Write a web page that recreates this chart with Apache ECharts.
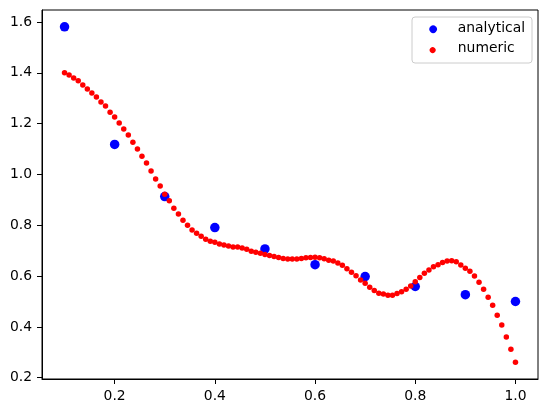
<!DOCTYPE html>
<html>
<head>
<meta charset="utf-8">
<title>analytical vs numeric</title>
<script src="https://cdn.jsdelivr.net/npm/echarts@6/dist/echarts.min.js"></script>
<style>
  html, body { margin: 0; padding: 0; background: #fff; }
  #chart { width: 547px; height: 413px; }
</style>
</head>
<body>
<div id="chart"></div>
<script>
// analytical points
const analyticalX = [0.1, 0.2, 0.3, 0.4, 0.5, 0.6, 0.7, 0.8, 0.9, 1.0]
const analyticalY = [1.581, 1.118, 0.913, 0.791, 0.707, 0.645, 0.598, 0.559, 0.527, 0.500]

// numeric points (100 samples from 0.1 to 1.0)
const numericX = [
  0.1000, 0.1091, 0.1182, 0.1273, 0.1364, 0.1455, 0.1545, 0.1636, 0.1727, 0.1818,
  0.1909, 0.2000, 0.2091, 0.2182, 0.2273, 0.2364, 0.2455, 0.2545, 0.2636, 0.2727,
  0.2818, 0.2909, 0.3000, 0.3091, 0.3182, 0.3273, 0.3364, 0.3455, 0.3545, 0.3636,
  0.3727, 0.3818, 0.3909, 0.4000, 0.4091, 0.4182, 0.4273, 0.4364, 0.4455, 0.4545,
  0.4636, 0.4727, 0.4818, 0.4909, 0.5000, 0.5091, 0.5182, 0.5273, 0.5364, 0.5455,
  0.5545, 0.5636, 0.5727, 0.5818, 0.5909, 0.6000, 0.6091, 0.6182, 0.6273, 0.6364,
  0.6455, 0.6545, 0.6636, 0.6727, 0.6818, 0.6909, 0.7000, 0.7091, 0.7182, 0.7273,
  0.7364, 0.7455, 0.7545, 0.7636, 0.7727, 0.7818, 0.7909, 0.8000, 0.8091, 0.8182,
  0.8273, 0.8364, 0.8455, 0.8545, 0.8636, 0.8727, 0.8818, 0.8909, 0.9000, 0.9091,
  0.9182, 0.9273, 0.9364, 0.9455, 0.9545, 0.9636, 0.9727, 0.9818, 0.9909, 1.0000
]
const numericY = [
  1.400, 1.391, 1.379, 1.369, 1.352, 1.336, 1.320, 1.305, 1.285, 1.269,
  1.245, 1.226, 1.202, 1.179, 1.155, 1.127, 1.100, 1.072, 1.045, 1.013,
  0.982, 0.954, 0.922, 0.896, 0.867, 0.844, 0.820, 0.800, 0.781, 0.769,
  0.757, 0.745, 0.737, 0.733, 0.726, 0.722, 0.718, 0.714, 0.714, 0.710,
  0.706, 0.698, 0.694, 0.690, 0.685, 0.681, 0.677, 0.673, 0.669, 0.667,
  0.667, 0.667, 0.669, 0.672, 0.673, 0.674, 0.672, 0.668, 0.662, 0.659,
  0.651, 0.643, 0.629, 0.615, 0.601, 0.585, 0.572, 0.556, 0.543, 0.532,
  0.529, 0.525, 0.525, 0.531, 0.538, 0.548, 0.561, 0.578, 0.594, 0.611,
  0.624, 0.637, 0.645, 0.653, 0.659, 0.660, 0.656, 0.644, 0.631, 0.619,
  0.600, 0.576, 0.548, 0.517, 0.485, 0.446, 0.407, 0.360, 0.312, 0.261
]

// tick labels
const xTicks = [0.2, 0.4, 0.6, 0.8, 1.0]
const yTicks = [0.2, 0.4, 0.6, 0.8, 1.0, 1.2, 1.4, 1.6]

const font = 'DejaVu Sans'

// legend icons: dummy moveTo points keep the box size, circle sits inside it
const bigDot = 'path://M0,0M40,10M24.2,5A5.2,5.2,0,1,1,24.19,4.99Z'
const smallDot = 'path://M0,0M40,10M22,5A3,3,0,1,1,21.99,4.99Z'

const chart = echarts.init(document.getElementById('chart'), null, { renderer: 'canvas' })

chart.setOption({
  animation: false,
  backgroundColor: '#fff',

  grid: {
    left: 42,
    top: 10,
    right: 9,
    bottom: 34,
    show: true,
    borderColor: '#000',
    borderWidth: 1
  },

  legend: {
    orient: 'vertical',
    right: 15,
    top: 17,
    padding: [4, 7, 8, 1],
    itemGap: 6,
    itemWidth: 40,
    itemHeight: 10,
    borderColor: '#cccccc',
    borderWidth: 1,
    borderRadius: 3,
    backgroundColor: 'rgba(255,255,255,0.8)',
    textStyle: { fontFamily: font, fontSize: 13.9, color: '#000' },
    data: [
      { name: 'analytical', icon: bigDot },
      { name: 'numeric', icon: smallDot }
    ]
  },

  xAxis: {
    type: 'value',
    min: 0.055,
    max: 1.045,
    splitLine: { show: false },
    axisLine: { show: true, onZero: false, lineStyle: { color: '#000', width: 1 } },
    axisTick: { show: true, length: 5, lineStyle: { color: '#000' }, customValues: xTicks },
    axisLabel: {
      margin: 10,
      fontFamily: font,
      fontSize: 13.9,
      color: '#000',
      customValues: xTicks,
      formatter: v => v.toFixed(1)
    }
  },

  yAxis: {
    type: 'value',
    min: 0.195,
    max: 1.647,
    splitLine: { show: false },
    axisLine: { show: true, onZero: false, lineStyle: { color: '#000', width: 1 } },
    axisTick: { show: true, length: 5, lineStyle: { color: '#000' }, customValues: yTicks },
    axisLabel: {
      margin: 10,
      fontFamily: font,
      fontSize: 13.9,
      color: '#000',
      customValues: yTicks,
      formatter: v => v.toFixed(1)
    }
  },

  series: [
    {
      name: 'analytical',
      type: 'scatter',
      symbol: 'circle',
      symbolSize: 9.5,
      itemStyle: { color: '#0000ff', opacity: 1 },
      data: analyticalX.map((x, i) => [x, analyticalY[i]]),
      z: 2
    },
    {
      name: 'numeric',
      type: 'scatter',
      symbol: 'circle',
      symbolSize: 5.5,
      itemStyle: { color: '#ff0000', opacity: 1 },
      data: numericX.map((x, i) => [x, numericY[i]]),
      z: 3
    }
  ]
})
</script>
</body>
</html>
